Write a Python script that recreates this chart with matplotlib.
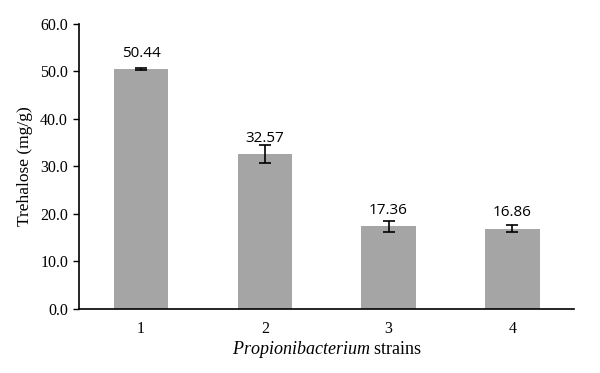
import matplotlib
matplotlib.use("Agg")
import matplotlib.pyplot as plt

plt.rcParams["mathtext.fontset"] = "custom"
plt.rcParams["mathtext.rm"] = "Liberation Serif"
plt.rcParams["mathtext.it"] = "Liberation Serif:italic"

# data
strains = ["1", "2", "3", "4"]
trehalose = [50.44, 32.57, 17.36, 16.86]
errors = [0.2, 1.9, 1.2, 0.75]
y_ticks = [0, 10, 20, 30, 40, 50, 60]

fig = plt.figure(figsize=(6, 3.73), dpi=100)
ax = fig.add_axes([0.132, 0.172, 0.825, 0.764])

x = range(len(strains))
ax.bar(x, trehalose, width=0.44, color="#a5a5a5", zorder=2)
ax.errorbar(x, trehalose, yerr=errors, fmt="none", ecolor="black",
            elinewidth=1.2, capsize=4, capthick=1.2, zorder=3)

# labels sit a fixed distance above the bar top
for xi, v in zip(x, trehalose):
    ax.text(xi, v + 2.65, f"{v:.2f}", ha="center", va="baseline",
            fontsize=11, family="Open Sans")

ax.set_xlim(-0.5, 3.5)
ax.set_ylim(0, 60)
ax.set_yticks(y_ticks)
ax.set_yticklabels([f"{t:.1f}" for t in y_ticks], family="Liberation Serif", fontsize=11.5)
ax.set_xticks(list(x))
ax.set_xticklabels(strains, family="Liberation Serif", fontsize=11.5)
ax.tick_params(axis="x", length=0, pad=9)
ax.tick_params(axis="y", length=4, width=1, direction="out", pad=4)

for s in ["top", "right"]:
    ax.spines[s].set_visible(False)
ax.spines["left"].set_linewidth(1.2)
ax.spines["bottom"].set_linewidth(1.2)

ax.set_ylabel("Trehalose (mg/g)", family="Liberation Serif", fontsize=12.5, labelpad=5)
ax.set_xlabel(r"$\it{Propionibacterium}$ strains", family="Liberation Serif",
              fontsize=13, labelpad=1)

fig.savefig("out.png", dpi=100)
